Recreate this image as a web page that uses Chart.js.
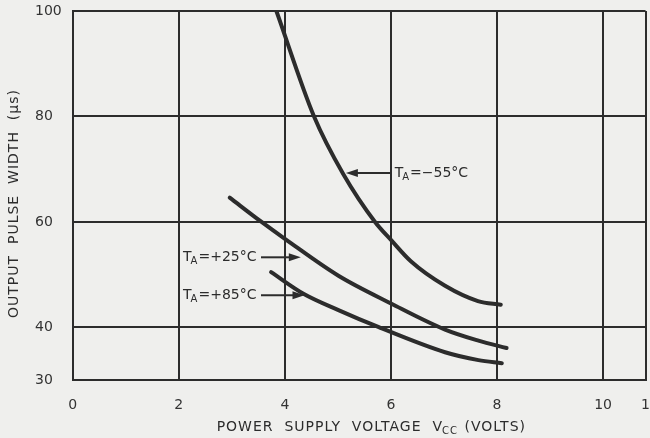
<!DOCTYPE html>
<html>
<head>
<meta charset="utf-8">
<script src="https://cdn.jsdelivr.net/npm/chart.js@4"></script>
<style>
  html, body { margin: 0; padding: 0; background: #efefed; overflow: hidden; }
  canvas { display: block; }
</style>
</head>
<body>
<canvas id="pulseChart" width="650" height="438"></canvas>
<script>
// Output pulse width (us) vs supply voltage (V)
const vccMinus55 = [3.84, 4.55, 5.10, 5.70, 6.0, 6.38, 7.02, 7.64, 8.07];
const pwMinus55  = [100, 80, 69.1, 60, 56.6, 52.5, 47.9, 45.0, 44.3];

const vccPlus25 = [2.96, 3.56, 4.0, 5.01, 6.01, 7.02, 7.65, 8.18];
const pwPlus25  = [64.6, 60, 56.8, 49.8, 44.5, 39.6, 37.5, 36.1];

const vccPlus85 = [3.74, 4.35, 5.01, 5.76, 7.02, 7.65, 8.09];
const pwPlus85  = [50.5, 46.4, 43.3, 40.1, 35.3, 33.8, 33.2];

const xTickValues = [0, 2, 4, 6, 8, 10, 10.8];
const xTickLabels = ['0', '2', '4', '6', '8', '10', '1'];
const yTickValues = [30, 40, 60, 80, 100];

const curveLabels = ['=\u221255\u00b0C', '=+25\u00b0C', '=+85\u00b0C'];

const INK = '#2c2c2c';
const FONT = '"DejaVu Sans"';

function points(xs, ys) {
    return xs.map((x, i) => ({ x: x, y: ys[i] }));
}

function curve(xs, ys) {
    return {
        data: points(xs, ys),
        borderColor: INK,
        borderWidth: 4,
        borderCapStyle: 'round',
        pointRadius: 0,
        cubicInterpolationMode: 'monotone'
    };
}

// label text start, arrow tail and arrow tip, in data units
const callouts = [
    { text: curveLabels[0], tx: 6.07, y: 69.3, from: 6.0, to: 5.15 },
    { text: curveLabels[1], tx: 2.08, y: 53.3, from: 3.55, to: 4.3 },
    { text: curveLabels[2], tx: 2.08, y: 46.1, from: 3.55, to: 4.37 }
];

function drawSubText(ctx, x, y, main, sub, rest, size) {
    ctx.font = size + 'px ' + FONT;
    ctx.fillText(main, x, y);
    let w = ctx.measureText(main).width;
    ctx.font = Math.round(size * 0.72) + 'px ' + FONT;
    ctx.fillText(sub, x + w - 1, y + size * 0.32);
    w += ctx.measureText(sub).width - 1;
    ctx.font = size + 'px ' + FONT;
    ctx.fillText(rest, x + w + 1, y);
}

function subTextWidth(ctx, main, sub, rest, size) {
    ctx.font = size + 'px ' + FONT;
    let w = ctx.measureText(main).width + ctx.measureText(rest).width;
    ctx.font = Math.round(size * 0.72) + 'px ' + FONT;
    return w + ctx.measureText(sub).width;
}

const annotate = {
    id: 'annotate',
    afterDatasetsDraw(chart) {
        const ctx = chart.ctx;
        const xs = chart.scales.x;
        const ys = chart.scales.y;
        ctx.save();
        ctx.fillStyle = INK;
        ctx.strokeStyle = INK;
        ctx.textBaseline = 'middle';
        ctx.textAlign = 'left';
        callouts.forEach(c => {
            const py = ys.getPixelForValue(c.y);
            const x0 = xs.getPixelForValue(c.from);
            const x1 = xs.getPixelForValue(c.to);
            const dir = x1 > x0 ? 1 : -1;
            ctx.lineWidth = 2;
            ctx.beginPath();
            ctx.moveTo(x0, py);
            ctx.lineTo(x1 - dir * 8, py);
            ctx.stroke();
            ctx.beginPath();
            ctx.moveTo(x1, py);
            ctx.lineTo(x1 - dir * 12, py - 4);
            ctx.lineTo(x1 - dir * 12, py + 4);
            ctx.closePath();
            ctx.fill();
            drawSubText(ctx, xs.getPixelForValue(c.tx), py, 'T', 'A', c.text, 14);
        });

        // axis titles, drawn by hand for the subscript and the wide lettering
        ctx.letterSpacing = '1px';
        const before = 'POWER  SUPPLY  VOLTAGE  V';
        const after = ' (VOLTS)';
        const total = subTextWidth(ctx, before, 'CC', after, 14);
        const cx = xs.getPixelForValue(5.63);
        drawSubText(ctx, cx - total / 2, chart.chartArea.bottom + 47, before, 'CC', after, 14);

        ctx.translate(14, ys.getPixelForValue(63.5));
        ctx.rotate(-Math.PI / 2);
        ctx.textAlign = 'center';
        ctx.font = '14px ' + FONT;
        ctx.fillText('OUTPUT  PULSE  WIDTH  (\u03bcs)', 0, 0);
        ctx.restore();
    }
};

const ctx = document.getElementById('pulseChart').getContext('2d');
new Chart(ctx, {
    type: 'line',
    data: {
        datasets: [
            curve(vccMinus55, pwMinus55),
            curve(vccPlus25, pwPlus25),
            curve(vccPlus85, pwPlus85)
        ]
    },
    options: {
        responsive: false,
        animation: false,
        devicePixelRatio: 1,
        layout: { padding: { left: 35, right: 0, top: 11, bottom: 24 } },
        plugins: {
            legend: { display: false },
            tooltip: { enabled: false }
        },
        scales: {
            x: {
                type: 'linear',
                min: 0,
                max: 10.8,
                afterBuildTicks: axis => { axis.ticks = xTickValues.map(v => ({ value: v })); },
                ticks: {
                    color: '#333',
                    font: { family: 'DejaVu Sans', size: 14 },
                    padding: 0,
                    maxRotation: 0,
                    autoSkip: false,
                    callback: (v, i) => xTickLabels[i]
                },
                grid: { color: INK, lineWidth: 2, drawTicks: true, tickLength: 17, tickColor: 'rgba(0,0,0,0)' },
                border: { color: INK, width: 2 }
            },
            y: {
                type: 'linear',
                min: 30,
                max: 100,
                afterBuildTicks: axis => { axis.ticks = yTickValues.map(v => ({ value: v })); },
                ticks: {
                    color: '#333',
                    font: { family: 'DejaVu Sans', size: 14 },
                    padding: 0,
                    crossAlign: 'far',
                    autoSkip: false
                },
                grid: { color: INK, lineWidth: 2, drawTicks: true, tickLength: 11, tickColor: 'rgba(0,0,0,0)' },
                border: { color: INK, width: 2 }
            }
        }
    },
    plugins: [annotate]
});
</script>
</body>
</html>
